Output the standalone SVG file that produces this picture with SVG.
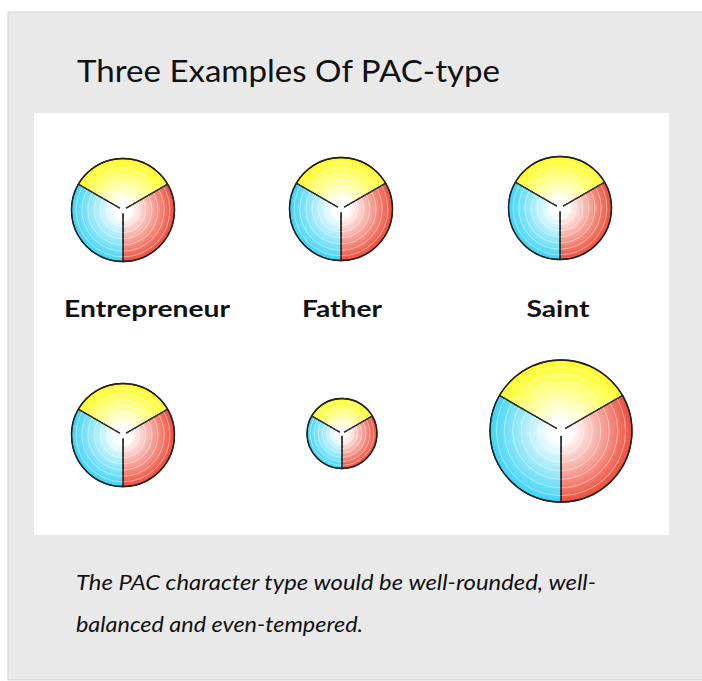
<svg xmlns="http://www.w3.org/2000/svg" width="702" height="681" viewBox="0 0 702 681">
<style>
.title{font-family:Lato,"Open Sans","Liberation Sans",sans-serif;font-size:31px;fill:#111}
.lbl{font-family:Lato,"Open Sans","Liberation Sans",sans-serif;font-size:22px;font-weight:bold;fill:#111;text-anchor:middle}
.cap{font-family:Lato,"Open Sans","Liberation Sans",sans-serif;font-size:20.5px;font-style:italic;fill:#111}
.sec{stroke:#222;stroke-width:1.3;vector-effect:non-scaling-stroke;stroke-linejoin:round}
.ring{fill:none;stroke:#fff;stroke-opacity:0.45;stroke-width:1;vector-effect:non-scaling-stroke}
.spoke{stroke:#333;stroke-width:1.3;vector-effect:non-scaling-stroke}
</style>
<defs>
<radialGradient id="gy" gradientUnits="userSpaceOnUse" cx="0" cy="0" r="1">
<stop offset="0" stop-color="#ffffff"/><stop offset="0.15" stop-color="#ffffff"/><stop offset="0.9" stop-color="#ffff3a"/><stop offset="1" stop-color="#fff52e"/>
</radialGradient>
<radialGradient id="gr" gradientUnits="userSpaceOnUse" cx="0" cy="0" r="1">
<stop offset="0" stop-color="#ffffff"/><stop offset="0.15" stop-color="#ffffff"/><stop offset="0.9" stop-color="#f06352"/><stop offset="1" stop-color="#ec4e3e"/>
</radialGradient>
<radialGradient id="gc" gradientUnits="userSpaceOnUse" cx="0" cy="0" r="1">
<stop offset="0" stop-color="#ffffff"/><stop offset="0.15" stop-color="#ffffff"/><stop offset="0.9" stop-color="#55d9f8"/><stop offset="1" stop-color="#3fd1f5"/>
</radialGradient>
<g id="pie">
<path class="sec" fill="url(#gy)" d="M0,0 L-0.866,-0.5 A1,1 0 0 1 0.866,-0.5 Z"/>
<path class="sec" fill="url(#gr)" d="M0,0 L0.866,-0.5 A1,1 0 0 1 0,1 Z"/>
<path class="sec" fill="url(#gc)" d="M0,0 L0,1 A1,1 0 0 1 -0.866,-0.5 Z"/>
<circle class="ring" r="0.2"/><circle class="ring" r="0.32"/><circle class="ring" r="0.44"/><circle class="ring" r="0.56"/><circle class="ring" r="0.68"/><circle class="ring" r="0.8"/><circle class="ring" r="0.91"/>
<circle r="0.07" fill="#fff"/>
<line class="spoke" x1="0" y1="0.07" x2="0" y2="1"/>
<line class="spoke" x1="-0.06" y1="-0.035" x2="-0.866" y2="-0.5"/>
<line class="spoke" x1="0.06" y1="-0.035" x2="0.866" y2="-0.5"/>
<circle r="1" fill="none" stroke="#222" stroke-width="1.3" vector-effect="non-scaling-stroke"/>
</g>
</defs>
<rect x="8" y="12" width="700" height="668" fill="#e9e9e9" stroke="#d6d6d6" stroke-width="1"/>
<rect x="34" y="113" width="635" height="422" fill="#ffffff"/>
<text class="title" x="77" y="82" textLength="423" lengthAdjust="spacingAndGlyphs">Three Examples Of PAC-type</text>
<g id="entrepreneur-top"><use href="#pie" transform="translate(123,210) scale(51.5)"/></g>
<g id="father-top"><use href="#pie" transform="translate(341,209) scale(51.5)"/></g>
<g id="saint-top"><use href="#pie" transform="translate(560,208) scale(51.5)"/></g>
<g id="entrepreneur-bottom"><use href="#pie" transform="translate(123,435) scale(51.5)"/></g>
<g id="father-bottom"><use href="#pie" transform="translate(342,433.5) scale(35)"/></g>
<g id="saint-bottom"><use href="#pie" transform="translate(561,431) scale(71)"/></g>
<g id="labels">
<text class="lbl" x="147" y="317" textLength="166" lengthAdjust="spacingAndGlyphs">Entrepreneur</text>
<text class="lbl" x="342" y="317" textLength="80" lengthAdjust="spacingAndGlyphs">Father</text>
<text class="lbl" x="558" y="317" textLength="63" lengthAdjust="spacingAndGlyphs">Saint</text>
</g>
<g id="connectors"/>
<text class="cap" x="76" y="590" textLength="520" lengthAdjust="spacingAndGlyphs">The PAC character type would be well-rounded, well-</text>
<text class="cap" x="76" y="632" textLength="287" lengthAdjust="spacingAndGlyphs">balanced and even-tempered.</text>
</svg>
